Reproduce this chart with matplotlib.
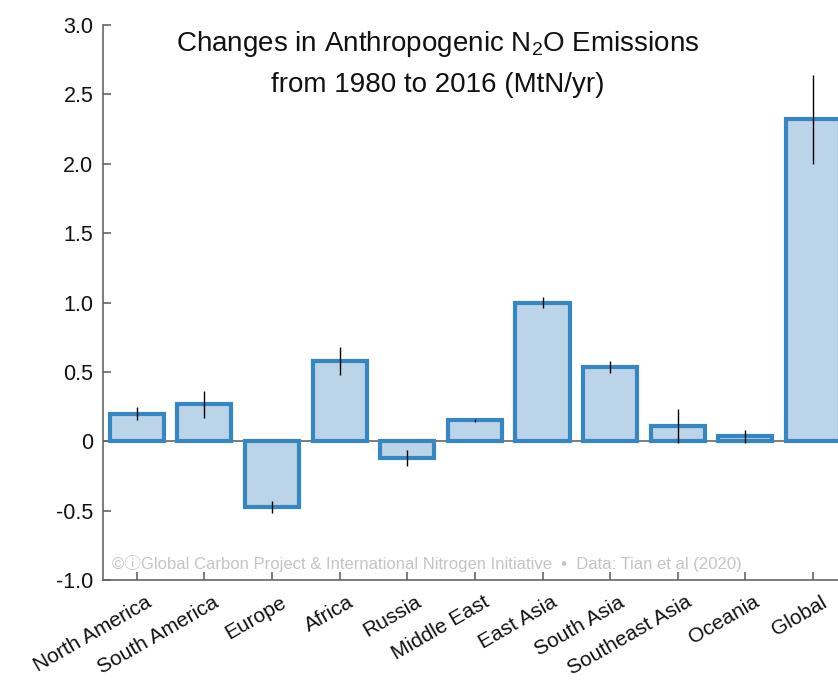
import matplotlib
matplotlib.use("Agg")
import matplotlib.pyplot as plt
import matplotlib.transforms as mtransforms

plt.rcParams['font.family'] = ['Liberation Sans', 'DejaVu Sans']
plt.rcParams['mathtext.fontset'] = 'custom'
plt.rcParams['mathtext.rm'] = 'Liberation Sans'

regions = ["North America", "South America", "Europe", "Africa", "Russia",
           "Middle East", "East Asia", "South Asia", "Southeast Asia",
           "Oceania", "Global"]
changes = [0.20, 0.265, -0.475, 0.58, -0.12, 0.15, 1.00, 0.535, 0.11, 0.035, 2.32]
errors = [0.05, 0.095, 0.045, 0.10, 0.06, 0.01, 0.04, 0.045, 0.12, 0.045, 0.32]
yticks = [-1.0, -0.5, 0, 0.5, 1.0, 1.5, 2.0, 2.5, 3.0]
ytick_labels = ["-1.0", "-0.5", "0", "0.5", "1.0", "1.5", "2.0", "2.5", "3.0"]

fig = plt.figure(figsize=(8.38, 6.81), dpi=100)
ax = fig.add_axes([0.1229, 0.1483, 0.8771, 0.815])

x = list(range(len(regions)))
ax.bar(x, changes, width=0.8, color="#bcd4e7", edgecolor="#3686c3", linewidth=3, zorder=2)
ax.errorbar(x, changes, yerr=errors, fmt="none", ecolor="black", elinewidth=1, capsize=0, zorder=3)
ax.axhline(0, color="#666666", linewidth=1.2, zorder=1)

ax.set_xlim(-0.5, 10.37)
ax.set_ylim(-1.0, 3.0)
ax.set_yticks(yticks)
ax.set_yticklabels(ytick_labels)
ax.set_xticks(x)
ax.set_xticklabels(regions, rotation=30, ha="right", rotation_mode="anchor")

for s in ["top", "right"]:
    ax.spines[s].set_visible(False)
for s in ["left", "bottom"]:
    ax.spines[s].set_color("#666666")
    ax.spines[s].set_linewidth(1.2)
ax.tick_params(axis="both", direction="in", length=6, width=1.2, color="#666666",
               labelsize=15.5, labelcolor="#111111")
ax.tick_params(axis="x", pad=9, labelsize=15)
ax.tick_params(axis="y", pad=7)

# shift x labels a little to the right, like the reference
offset = mtransforms.ScaledTranslation(8 / 100, 0, fig.dpi_scale_trans)
for lab in ax.get_xticklabels():
    lab.set_transform(lab.get_transform() + offset)

ax.text(0.456, 0.992, "Changes in Anthropogenic N$_\\mathrm{2}$O Emissions",
        transform=ax.transAxes, ha="center", va="top", fontsize=20, color="#111111")
ax.text(0.456, 0.915, "from 1980 to 2016 (MtN/yr)",
        transform=ax.transAxes, ha="center", va="top", fontsize=20, color="#111111")

ax.text(0.012, 0.015, "\u00a9\u24d8Global Carbon Project & International Nitrogen Initiative  \u2022  Data: Tian et al (2020)",
        transform=ax.transAxes, ha="left", va="bottom", fontsize=12, color="#c4c4c4",
        family=['Liberation Sans', 'Noto Sans CJK JP', 'DejaVu Sans'])

fig.savefig("out.png", dpi=100)
